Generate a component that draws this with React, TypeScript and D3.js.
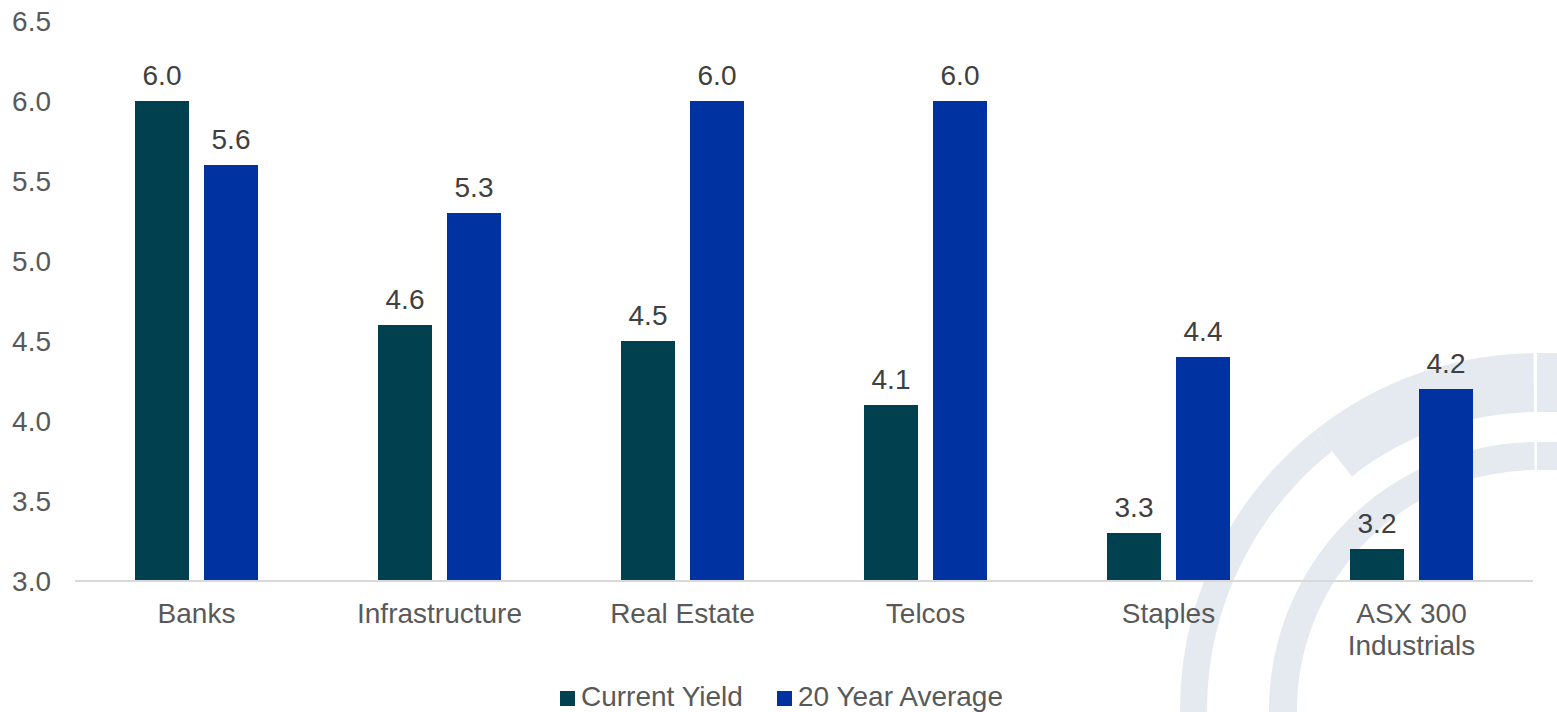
import React from "react";
import * as d3 from "d3";

const categories: string[][] = [
  ["Banks"],
  ["Infrastructure"],
  ["Real Estate"],
  ["Telcos"],
  ["Staples"],
  ["ASX 300", "Industrials"],
];
const seriesNames = ["Current Yield", "20 Year Average"];
const currentYield = [6.0, 4.6, 4.5, 4.1, 3.3, 3.2];
const twentyYearAverage = [5.6, 5.3, 6.0, 6.0, 4.4, 4.2];
const yTicks = [3.0, 3.5, 4.0, 4.5, 5.0, 5.5, 6.0, 6.5];
const colors = ["#00404F", "#0033A1"];

const W = 1557;
const H = 712;
const left = 75;
const right = 1533;
const top = 21;
const bottom = 581;

export default function App() {
  const keys = categories.map((c) => c.join(" "));
  const x0 = d3.scaleBand<string>().domain(keys).range([left, right]).padding(0);
  const bw = x0.bandwidth();
  const groupW = 123;
  const x1 = d3
    .scaleBand<string>()
    .domain(seriesNames)
    .range([(bw - groupW) / 2, (bw + groupW) / 2])
    .paddingInner(15 / 69)
    .paddingOuter(0);
  const y = d3.scaleLinear().domain([3, 6.5]).range([bottom, top]);
  const values = [currentYield, twentyYearAverage];

  const cx = 1537;
  const cy = 710;
  const arc = d3.arc();
  const wmColor = "#e5eaf0";
  const outerLower = arc({ innerRadius: 330, outerRadius: 357, startAngle: -Math.PI, endAngle: -0.67 } as any) || "";
  const outerUpper = arc({ innerRadius: 298, outerRadius: 357, startAngle: -0.67, endAngle: -0.01 } as any) || "";
  const innerArc = arc({ innerRadius: 240, outerRadius: 268, startAngle: -Math.PI, endAngle: -0.01 } as any) || "";

  const font = "'Liberation Sans', Arial, sans-serif";
  const fs = 28;

  return (
    <svg
      width={W}
      height={H}
      style={{ position: "absolute", left: 0, top: 0, background: "#fff" }}
      fontFamily={font}
    >
      <g transform={`translate(${cx},${cy})`} fill={wmColor}>
        <path d={outerLower} />
        <path d={outerUpper} />
        <path d={innerArc} />
      </g>
      <rect x={1537} y={cy - 357} width={20} height={59} fill={wmColor} />
      <rect x={1537} y={cy - 268} width={20} height={28} fill={wmColor} />

      {yTicks.map((t) => (
        <text
          key={t}
          x={51}
          y={y(t)}
          dy="0.35em"
          textAnchor="end"
          fontSize={fs}
          fill="#595959"
        >
          {t.toFixed(1)}
        </text>
      ))}

      {keys.map((k, i) => (
        <g key={k} transform={`translate(${x0(k)},0)`}>
          {seriesNames.map((s, j) => {
            const v = values[j][i];
            const bx = x1(s) as number;
            return (
              <g key={s}>
                <rect
                  x={bx}
                  y={y(v)}
                  width={x1.bandwidth()}
                  height={bottom - y(v)}
                  fill={colors[j]}
                />
                <text
                  x={bx + x1.bandwidth() / 2}
                  y={y(v) - 16}
                  textAnchor="middle"
                  fontSize={fs}
                  fill="#404040"
                >
                  {v.toFixed(1)}
                </text>
              </g>
            );
          })}
          {categories[i].map((line, li) => (
            <text
              key={li}
              x={bw / 2}
              y={623 + li * 32}
              textAnchor="middle"
              fontSize={fs}
              fill="#595959"
            >
              {line}
            </text>
          ))}
        </g>
      ))}

      <line x1={left} x2={right} y1={bottom} y2={bottom} stroke="#d9d9d9" strokeWidth={2} />

      <g fontSize={fs} fill="#595959">
        <rect x={560} y={691} width={15} height={15} fill={colors[0]} />
        <text x={581} y={706}>{seriesNames[0]}</text>
        <rect x={777} y={691} width={15} height={15} fill={colors[1]} />
        <text x={798} y={706}>{seriesNames[1]}</text>
      </g>
    </svg>
  );
}
